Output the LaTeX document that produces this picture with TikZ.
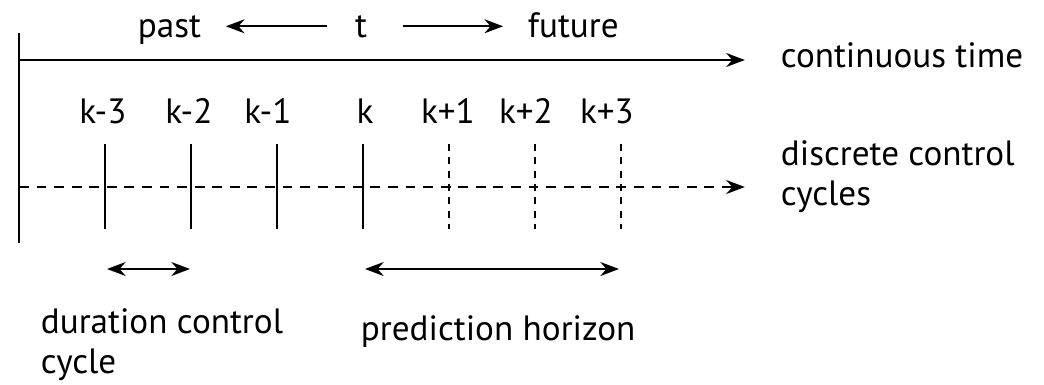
\documentclass[tikz,border=0pt]{standalone}
\usepackage{fontspec}
\setmainfont{PT Sans}
\usetikzlibrary{arrows.meta, positioning}

\begin{document}
\begin{tikzpicture}[font=\fontsize{25}{28}\selectfont, line width=1.3pt]
  \tikzset{lbl/.style={inner sep=0pt},
    twolines/.style={lbl, align=left, font=\fontsize{25}{28}\selectfont},
    tickline/.style={line width=1.2pt},
    futuretick/.style={line width=1.2pt, dash pattern=on 5pt off 4.5pt},
    dashaxis/.style={line width=1.3pt, dash pattern=on 7pt off 5.5pt}}
  \useasboundingbox (0,0) rectangle (26.1,-9.6);
  % time direction
  \node[lbl, anchor=base west] (past) at (3.425,-0.925) {past};
  \node[lbl, anchor=base] (t) at (9.025,-0.925) {t};
  \node[lbl, anchor=base west] (future) at (13.175,-0.925) {future};
  \draw[-{Stealth[scale=1.5]}, shorten <=19pt, shorten >=17pt] (t.west) -- (t.west -| past.east);
  \draw[-{Stealth[scale=1.5]}, shorten <=25pt, shorten >=17pt] (t.east) -- (t.east -| future.west);
  % continuous time axis
  \coordinate (axtop) at (0.475,-0.825);
  \coordinate (axbottom) at (0.475,-6.075);
  \coordinate (ctstart) at (0.475,-1.5);
  \draw[line width=2pt] (axtop) -- (axbottom);
  \node[lbl, anchor=base west] (ctlab) at (19.5,-1.675) {continuous time};
  \draw[-{Stealth[scale=1.5]}, shorten >=25pt] (ctstart) -- (ctstart -| ctlab.west);
  % discrete control cycles
  \coordinate (dcstart) at (0.475,-4.675);
  \node[twolines, anchor=base west] (dclab) at (19.5,-5.125) {discrete control\\cycles};
  \draw[-{Stealth[scale=1.5]}, dashaxis, shorten >=25pt] (dcstart) -- (dcstart -| dclab.west);
  \foreach \x in {2.625,4.775,6.925,9.075}
    \draw[tickline] (\x,-3.6) -- (\x,-5.725);
  \foreach \x in {11.225,13.375,15.525}
    \draw[futuretick] (\x,-3.6) -- (\x,-5.725);
  \foreach \x/\lab [count=\i] in {2.575/k-3,4.725/k-2,6.7/k-1,9.125/k,11.2/k+1,13.15/k+2,15.175/k+3}
    \node[lbl, anchor=base] (k\i) at (\x,-3.075) {\lab};
  % durations
  \coordinate (durleft) at (2.675,-6.725);
  \coordinate (durright) at (4.75,-6.725);
  \coordinate (horleft) at (9.125,-6.725);
  \coordinate (horright) at (15.475,-6.725);
  \draw[{Stealth[scale=1.5]}-{Stealth[scale=1.5]}] (durleft) -- (durright);
  \draw[{Stealth[scale=1.5]}-{Stealth[scale=1.5]}] (horleft) -- (horright);
  \node[twolines, anchor=base west] (durlab) at (1.0,-9.325) {duration control\\cycle};
  \node[lbl, anchor=base west] (horlab) at (9.0,-8.5) {prediction horizon};
\end{tikzpicture}
\end{document}
